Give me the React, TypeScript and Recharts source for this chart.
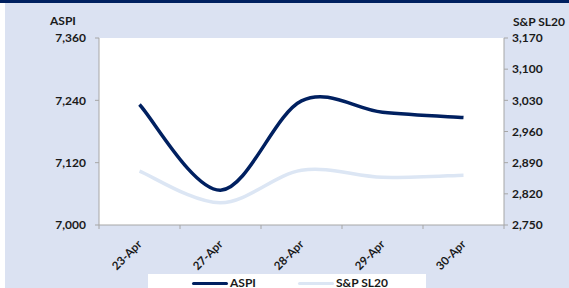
import React from "react";
import { LineChart, Line, XAxis, YAxis, CartesianGrid } from "recharts";

const dates = ["23-Apr", "27-Apr", "28-Apr", "29-Apr", "30-Apr"];
const aspi = [7232, 7067, 7239, 7217, 7207];
const sl20 = [2871, 2800, 2873, 2857, 2862];
const aspiTicks = [7000, 7120, 7240, 7360];
const sl20Ticks = [2750, 2820, 2890, 2960, 3030, 3100, 3170];

const NAVY = "#002060";
const LIGHT = "#dce6f4";
const BG = "#dbe2f2";
const AXIS = "#a6a6a6";
const FONT = "Lato, 'Open Sans', sans-serif";
const HALF_BAND = 40.5; // half of one category slot, Excel puts ticks between categories

const data = dates.map((d, i) => ({ date: d, aspi: aspi[i], sl20: sl20[i] }));

// Excel-style smoothed line (Catmull-Rom through every point)
const excelSmooth = (context: any) => {
  let pts: [number, number][] = [];
  return {
    areaStart() {},
    areaEnd() {},
    lineStart() {
      pts = [];
    },
    point(x: number, y: number) {
      pts.push([+x, +y]);
    },
    lineEnd() {
      if (!pts.length) return;
      context.moveTo(pts[0][0], pts[0][1]);
      const k = 1 / 6;
      for (let i = 0; i < pts.length - 1; i++) {
        const p0 = pts[i - 1] ?? pts[i];
        const p1 = pts[i];
        const p2 = pts[i + 1];
        const p3 = pts[i + 2] ?? p2;
        context.bezierCurveTo(
          p1[0] + (p2[0] - p0[0]) * k,
          p1[1] + (p2[1] - p0[1]) * k,
          p2[0] - (p3[0] - p1[0]) * k,
          p2[1] - (p3[1] - p1[1]) * k,
          p2[0],
          p2[1]
        );
      }
    },
  };
};

const fmt = (v: number) => v.toLocaleString("en-US");

const labelStyle: React.CSSProperties = {
  fontSize: 12,
  fontWeight: 700,
  color: "#1a1a1a",
  fontFamily: FONT,
  lineHeight: "14px",
};

const tickStyle = { fontSize: 12, fontWeight: 700, fill: "#1a1a1a", fontFamily: FONT };

function DateTick({ x, y, payload, index }: any) {
  const ax = x + 3;
  const ay = y + 20;
  const last = index === dates.length - 1;
  return (
    <g>
      <line x1={x - HALF_BAND} x2={x - HALF_BAND} y1={y} y2={y + 4} stroke={AXIS} />
      {last && <line x1={x + HALF_BAND} x2={x + HALF_BAND} y1={y} y2={y + 4} stroke={AXIS} />}
      <text
        x={ax}
        y={ay}
        transform={`rotate(-45, ${ax}, ${ay})`}
        textAnchor="end"
        style={{ ...tickStyle, fontSize: 11.5 }}
      >
        {payload.value}
      </text>
    </g>
  );
}

function LegendItem({ color, label }: { color: string; label: string }) {
  return (
    <div style={{ display: "flex", alignItems: "center", gap: 2 }}>
      <span style={{ width: 36, height: 3, background: color, display: "inline-block", borderRadius: 2 }} />
      <span>{label}</span>
    </div>
  );
}

export default function App() {
  return (
    <div
      style={{
        position: "absolute",
        left: 0,
        top: 0,
        width: 569,
        height: 288,
        background: "#fff",
        overflow: "hidden",
        fontFamily: FONT,
      }}
    >
      <div style={{ position: "absolute", left: 5, top: 0, right: 0, bottom: 0, background: BG }} />
      <div style={{ position: "absolute", left: 0, top: 0, right: 0, height: 3, background: NAVY }} />

      <div style={{ position: "absolute", left: 50, top: 14, ...labelStyle }}>ASPI</div>
      <div style={{ position: "absolute", left: 513, top: 15, ...labelStyle }}>S&amp;P SL20</div>

      <div style={{ position: "absolute", left: 0, top: 0 }}>
        <LineChart width={569} height={288} data={data} margin={{ top: 38, right: 0, bottom: 0, left: 0 }}>
          <CartesianGrid fill="#fff" stroke="none" horizontal={false} vertical={false} />
          <XAxis
            dataKey="date"
            height={63}
            stroke={AXIS}
            tickLine={false}
            tickSize={0}
            tickMargin={0}
            tick={<DateTick />}
            interval={0}
            padding={{ left: HALF_BAND, right: HALF_BAND }}
          />
          <YAxis
            yAxisId="left"
            orientation="left"
            width={99}
            domain={[7000, 7360]}
            ticks={aspiTicks}
            tickFormatter={fmt}
            tick={tickStyle}
            stroke={AXIS}
            tickSize={4}
            tickMargin={9}
            allowDataOverflow
          />
          <YAxis
            yAxisId="right"
            orientation="right"
            width={65}
            domain={[2750, 3170]}
            ticks={sl20Ticks}
            tickFormatter={fmt}
            tick={{ ...tickStyle, textAnchor: "start" }}
            stroke={AXIS}
            tickSize={4}
            tickMargin={4}
            allowDataOverflow
          />
          <Line
            yAxisId="right"
            dataKey="sl20"
            type={excelSmooth as any}
            stroke={LIGHT}
            strokeWidth={3.5}
            dot={false}
            isAnimationActive={false}
          />
          <Line
            yAxisId="left"
            dataKey="aspi"
            type={excelSmooth as any}
            stroke={NAVY}
            strokeWidth={3.5}
            dot={false}
            isAnimationActive={false}
          />
        </LineChart>
      </div>

      <div
        style={{
          position: "absolute",
          left: 148,
          top: 274,
          width: 278,
          height: 18,
          background: "#fff",
          display: "flex",
          alignItems: "center",
          paddingLeft: 44,
          boxSizing: "border-box",
          gap: 42,
          ...labelStyle,
        }}
      >
        <LegendItem color={NAVY} label="ASPI" />
        <LegendItem color={LIGHT} label="S&P SL20" />
      </div>
    </div>
  );
}
